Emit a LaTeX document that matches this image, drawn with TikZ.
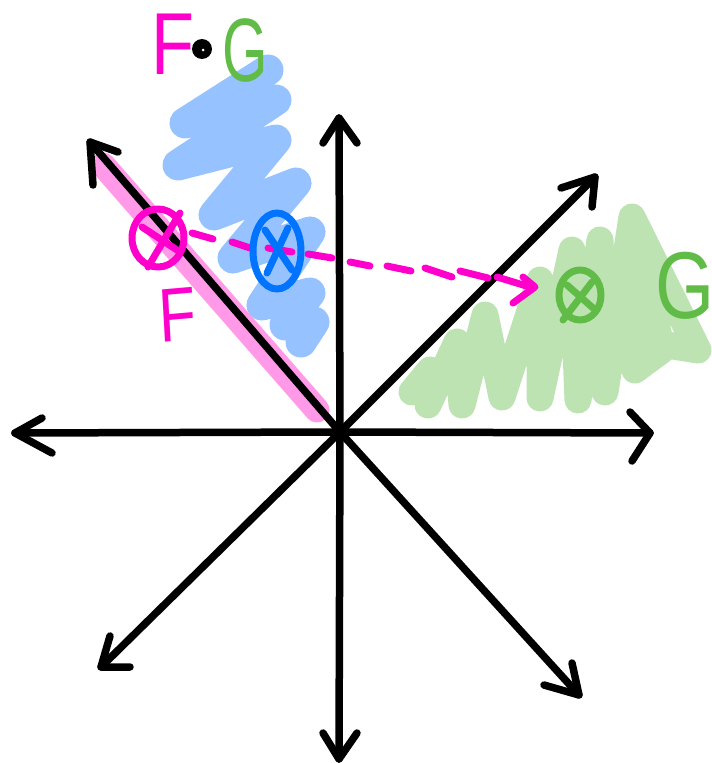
\documentclass[tikz,border=0pt]{standalone}
\usepackage{fontspec}
\setmainfont{Liberation Sans}
\definecolor{inkmagenta}{HTML}{FF00CC}
\definecolor{inkpink}{HTML}{FF99E8}
\definecolor{inkblue}{HTML}{0073FF}
\definecolor{inklightblue}{HTML}{96C3FF}
\definecolor{inkgreen}{HTML}{61BC47}
\definecolor{inklightgreen}{HTML}{BDE3B3}
\tikzset{
  axisline/.style={line width=7.5pt,line cap=round,line join=round},
  penline/.style={line width=7pt,line cap=round,line join=round},
  scribble/.style={line width=#1,line cap=round,line join=round},
  letter/.style={inner sep=0pt,font=\fontsize{#1}{#1}\selectfont},
}
\begin{document}
\begin{tikzpicture}[x=1pt,y=-1pt]
\useasboundingbox (0,0) rectangle (712,763);
% shaded regions
\draw[scribble=31pt,inklightblue] (268,70) -- (185,123) -- (276,100) -- (178,165) -- (276,140)
  -- (214,215) -- (296,183) -- (233,258) -- (310,232) -- (262,305) -- (310,293) -- (285,325)
  -- (314,322) -- (301,342);
\draw[scribble=25pt,inkpink] (103,165) -- (317,410);
\draw[scribble=27pt,inklightgreen] (412,392) -- (430,370) -- (428,405) -- (457,342) -- (462,405)
  -- (485,315) -- (502,397) -- (540,280) -- (540,398) -- (572,250) -- (578,400) -- (600,240)
  -- (605,392) -- (632,217) -- (635,370) -- (662,350) -- (632,217) -- (698,350) -- (635,340);
% axes
\coordinate (o) at (340,432);
\coordinate (tipN) at (339,118);
\coordinate (tipNE) at (595,177);
\coordinate (tipE) at (650,433);
\coordinate (tipSE) at (579,695);
\coordinate (tipS) at (339,759);
\coordinate (tipSW) at (101,667);
\coordinate (tipW) at (15,433);
\coordinate (tipNW) at (90,142);
\draw[axisline] (o) -- (tipN);
\draw[axisline] (o) -- (tipNE);
\draw[axisline] (o) -- (tipE);
\draw[axisline] (o) -- (tipSE);
\draw[axisline] (o) -- (tipS);
\draw[axisline] (o) -- (tipSW);
\draw[axisline] (o) -- (tipW);
\draw[axisline] (o) -- (tipNW);
\draw[axisline] (323,143) -- (tipN) -- (357,143);
\draw[axisline] (561,188) -- (tipNE) -- (592,207);
\draw[axisline] (630,412) -- (tipE) -- (632,461);
\draw[axisline] (572,663) -- (tipSE) -- (544,685);
\draw[axisline] (323,733) -- (tipS) -- (357,733);
\draw[axisline] (110,636) -- (tipSW) -- (130,667);
\draw[axisline] (42,418) -- (tipW) -- (52,453);
\draw[axisline] (118,152) -- (tipNW) -- (93,185);
% dashes
\foreach \xa/\ya/\xb/\yb in {192/233/213/239,232/242/250/248,268/248/292/252,308/254/332/258,
  350/262/370/266,387/266/411/271,425/268/452/277,460/271/488/278,497/277/533/288}
  \draw[penline,inkmagenta] (\xa,\ya) -- (\xb,\yb);
\draw[penline,inkmagenta] (523,277) -- (535,287) -- (513,303);
% points
\draw[penline,inkmagenta] (158,238) circle [x radius=26,y radius=29];
\draw[penline,inkmagenta] (142,227) -- (177,250);
\draw[penline,inkmagenta] (180,213) -- (148,267);
\draw[penline,inkblue] (277,251) circle [x radius=24,y radius=38];
\draw[penline,inkblue] (265,230) -- (292,270);
\draw[penline,inkblue] (288,228) -- (267,273);
\draw[penline,inkgreen] (580,295) circle [x radius=21,y radius=25];
\draw[penline,inkgreen] (567,285) -- (593,308);
\draw[penline,inkgreen] (592,282) -- (563,320);
% labels
\node[letter=88,inkmagenta,xscale=.8] (labelFtop) at (173,44) {F};
\fill (202,49) circle (10pt);
\fill[white] (203,50) circle (1.5pt);
\node[letter=90,inkgreen,xscale=.65] (labelGtop) at (245,51) {G};
\node[letter=76,inkmagenta,xscale=.8,rotate=4] (labelFlow) at (178,315) {F};
\node[letter=95,inkgreen,xscale=.8] (labelGright) at (685,286) {G};
\end{tikzpicture}
\end{document}
